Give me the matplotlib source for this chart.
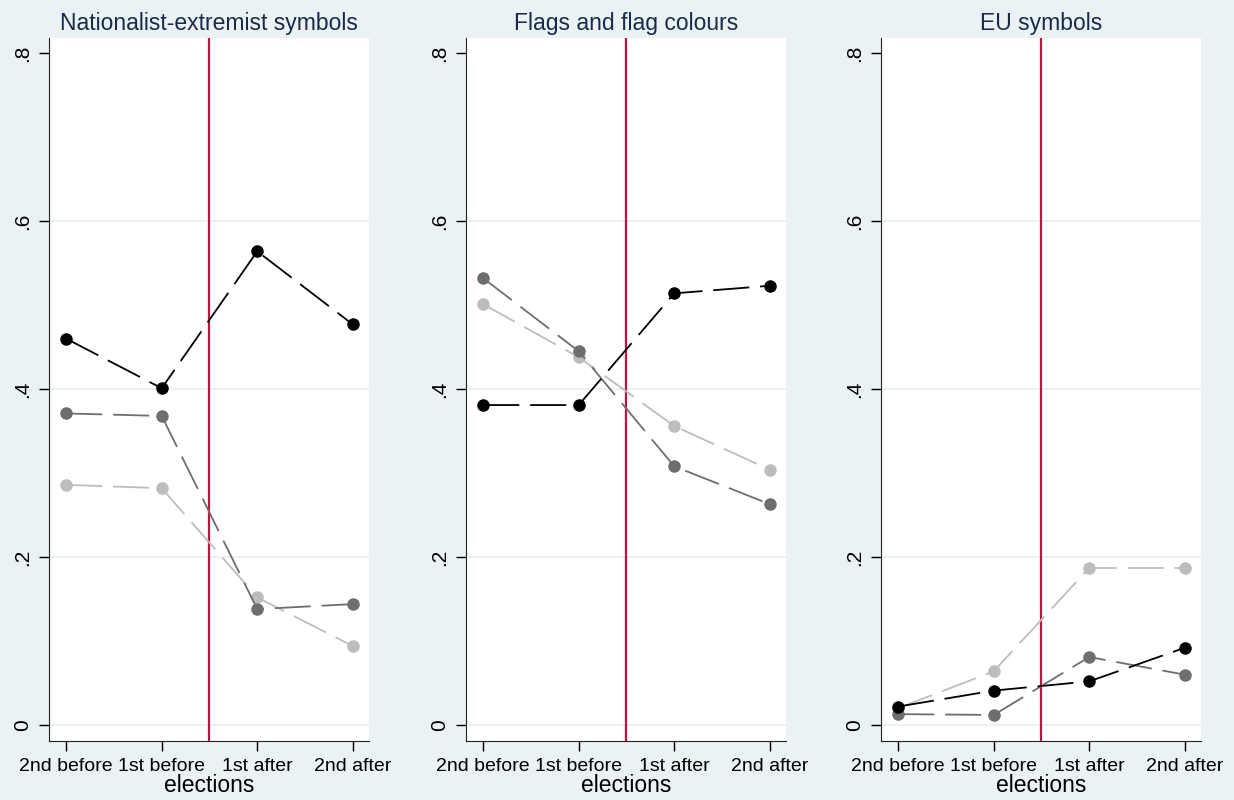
import matplotlib
matplotlib.use("Agg")
import matplotlib.pyplot as plt

plt.rcParams['font.family'] = ['Liberation Sans', 'DejaVu Sans']

categories = ["2nd before", "1st before", "1st after", "2nd after"]
titles = ["Nationalist-extremist symbols", "Flags and flag colours", "EU symbols"]

# series per panel: black, dark gray, light gray
nat_black = [0.460, 0.401, 0.564, 0.477]
nat_dark = [0.371, 0.368, 0.138, 0.144]
nat_light = [0.286, 0.282, 0.152, 0.094]

flag_black = [0.381, 0.381, 0.514, 0.523]
flag_dark = [0.532, 0.445, 0.308, 0.263]
flag_light = [0.501, 0.438, 0.356, 0.304]

eu_black = [0.022, 0.041, 0.052, 0.092]
eu_dark = [0.013, 0.012, 0.081, 0.060]
eu_light = [0.020, 0.064, 0.187, 0.187]

yticks = [0, 0.2, 0.4, 0.6, 0.8]
ytick_labels = ["0", ".2", ".4", ".6", ".8"]
election_line = 1.5

panels = [
    (nat_black, nat_dark, nat_light),
    (flag_black, flag_dark, flag_light),
    (eu_black, eu_dark, eu_light),
]
colors = ["#000000", "#6e6e6e", "#bdbdbd"]

bg = "#eaf2f3"
fig = plt.figure(figsize=(12.34, 8), dpi=100, facecolor=bg)

lefts = [49, 466, 881]
W, H = 1234, 800
for i, (series, title) in enumerate(zip(panels, titles)):
    l = lefts[i] / W
    ax = fig.add_axes([l, 59 / H, 320 / W, 703 / H])
    ax.set_facecolor("white")
    x = list(range(len(categories)))
    for g in yticks[:-1]:
        ax.axhline(g, color=bg, lw=1.5, zorder=0)
    ax.axvline(election_line, color="#c8103c", lw=1.6, zorder=1)
    # draw light first so black is on top
    for s, c in reversed(list(zip(series, colors))):
        ax.plot(x, s, color=c, lw=1.3, dashes=(20, 6), marker="o",
                markersize=8, markeredgecolor=c, markerfacecolor=c, zorder=3)
    ax.set_xlim(-0.18, 3.17)
    ax.set_ylim(-0.019, 0.818)
    ax.set_xticks(x)
    ax.set_xticklabels(categories, fontsize=14)
    ax.set_yticks(yticks)
    ax.set_yticklabels(ytick_labels, fontsize=15, rotation=90, va="center")
    ax.tick_params(axis="both", direction="out", length=7.5, width=1, colors="black")
    ax.tick_params(axis="x", pad=5)
    ax.tick_params(axis="y", pad=5)
    ax.spines["top"].set_visible(False)
    ax.spines["right"].set_visible(False)
    ax.spines["left"].set_color("#222222")
    ax.spines["bottom"].set_color("#222222")
    ax.set_xlabel("elections", fontsize=16.5, labelpad=-1)
    ax.set_title(title, fontsize=16.5, color="#1a2a4a", pad=6)

fig.savefig("out.png", dpi=100, facecolor=bg)
